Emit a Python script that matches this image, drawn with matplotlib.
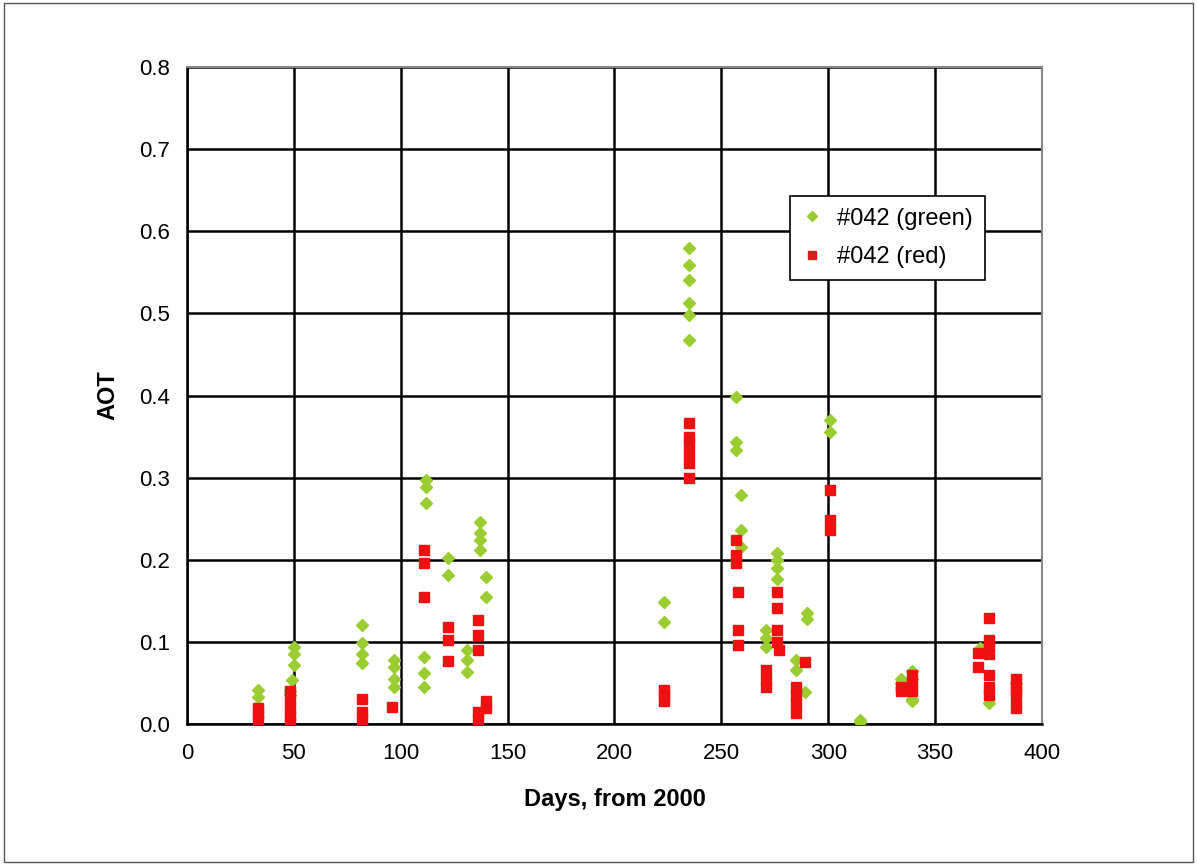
import matplotlib
matplotlib.use("Agg")
import matplotlib.pyplot as plt
from matplotlib.patches import Rectangle

plt.rcParams['font.family'] = ['Liberation Sans', 'DejaVu Sans']

# #042 (green): days and AOT
green_days = [33, 33, 48, 48, 49, 50, 50, 50,
              82, 82, 82, 82, 97, 97, 97, 97,
              111, 111, 111, 112, 112, 112, 122, 122,
              131, 131, 131, 137, 137, 137, 137, 140, 140,
              223, 223, 235, 235, 235, 235, 235, 235,
              257, 257, 257, 259, 259, 259,
              271, 271, 271, 276, 276, 276, 276,
              285, 285, 289, 290, 290, 301, 301, 315, 315,
              334, 334, 339, 339, 339, 339, 371, 375, 388]
green_aot = [0.041, 0.033, 0.040, 0.035, 0.054, 0.094, 0.085, 0.072,
             0.120, 0.099, 0.085, 0.074, 0.078, 0.070, 0.055, 0.045,
             0.082, 0.062, 0.045, 0.297, 0.289, 0.269, 0.202, 0.181,
             0.090, 0.078, 0.063, 0.246, 0.233, 0.224, 0.212, 0.179, 0.155,
             0.149, 0.124, 0.580, 0.559, 0.541, 0.513, 0.498, 0.468,
             0.398, 0.343, 0.334, 0.279, 0.236, 0.216,
             0.115, 0.105, 0.094, 0.208, 0.200, 0.190, 0.176,
             0.078, 0.066, 0.039, 0.135, 0.128, 0.370, 0.355, 0.005, 0.002,
             0.055, 0.050, 0.065, 0.055, 0.030, 0.028, 0.092, 0.026, 0.050]

# #042 (red): days and AOT
red_days = [33, 33, 33, 48, 48, 48, 48, 48,
            82, 82, 82, 96, 111, 111, 111, 122, 122, 122,
            136, 136, 136, 136, 136, 140, 140,
            223, 223, 223, 235, 235, 235, 235, 235, 235,
            257, 257, 257, 258, 258, 258,
            271, 271, 271, 276, 276, 276, 276, 277,
            285, 285, 285, 285, 289, 301, 301, 301,
            334, 334, 339, 339, 339, 370, 370,
            375, 375, 375, 375, 375, 375, 375,
            388, 388, 388, 388, 388]
red_aot = [0.020, 0.012, 0.005, 0.040, 0.030, 0.020, 0.010, 0.003,
           0.030, 0.015, 0.005, 0.021, 0.212, 0.196, 0.155, 0.118, 0.102, 0.077,
           0.127, 0.108, 0.090, 0.015, 0.005, 0.028, 0.020,
           0.042, 0.035, 0.028, 0.366, 0.350, 0.342, 0.330, 0.318, 0.300,
           0.224, 0.206, 0.196, 0.161, 0.114, 0.096,
           0.066, 0.055, 0.045, 0.161, 0.141, 0.115, 0.100, 0.090,
           0.045, 0.035, 0.025, 0.013, 0.076, 0.285, 0.248, 0.236,
           0.045, 0.040, 0.060, 0.050, 0.040, 0.087, 0.070,
           0.129, 0.102, 0.095, 0.085, 0.060, 0.045, 0.035,
           0.055, 0.045, 0.040, 0.030, 0.020]

x_ticks = [0, 50, 100, 150, 200, 250, 300, 350, 400]
y_ticks = [0.0, 0.1, 0.2, 0.3, 0.4, 0.5, 0.6, 0.7, 0.8]

fig = plt.figure(figsize=(11.97, 8.65), dpi=100)
ax = fig.add_axes([0.1562, 0.163, 0.7143, 0.7595])

# thin frame around the whole picture
fig.patches.append(Rectangle((0.003, 0.004), 0.994, 0.992, transform=fig.transFigure,
                             fill=False, edgecolor='#555555', linewidth=1))

ax.plot(green_days, green_aot, linestyle='none', marker='D', markersize=6,
        color='#9acd32', markeredgecolor='#9acd32', label='#042 (green)', zorder=3)
ax.plot(red_days, red_aot, linestyle='none', marker='s', markersize=6.5,
        color='#ee1111', markeredgecolor='#ee1111', label='#042 (red)', zorder=4)

ax.set_xlim(0, 400)
ax.set_ylim(0, 0.8)
ax.set_xticks(x_ticks)
ax.set_yticks(y_ticks)
ax.set_yticklabels([f"{v:.1f}" for v in y_ticks])
ax.tick_params(length=0, labelsize=16)
ax.tick_params(axis='y', pad=12)
ax.tick_params(axis='x', pad=14)
ax.grid(True, color='black', linewidth=1.8)
ax.set_axisbelow(True)

for side in ['left', 'bottom']:
    ax.spines[side].set_color('black')
    ax.spines[side].set_linewidth(1.8)
for side in ['top', 'right']:
    ax.spines[side].set_color('#888888')
    ax.spines[side].set_linewidth(1.5)

ax.set_xlabel('Days, from 2000', fontsize=17, fontweight='bold', labelpad=17)
ax.set_ylabel('AOT', fontsize=17, fontweight='bold', labelpad=14)

leg = ax.legend(loc='upper left', bbox_to_anchor=(0.705, 0.804), fontsize=17,
                frameon=True, fancybox=False, borderpad=0.5, handletextpad=0.65,
                labelspacing=0.7, handlelength=0.85, borderaxespad=0)
leg.get_frame().set_edgecolor('black')
leg.get_frame().set_linewidth(1.2)
leg.get_frame().set_alpha(1)
for h in leg.legend_handles:
    h.set_markersize(5.5)
leg.legend_handles[1].set_color('#d42020')

plt.savefig('out.png', dpi=100)
